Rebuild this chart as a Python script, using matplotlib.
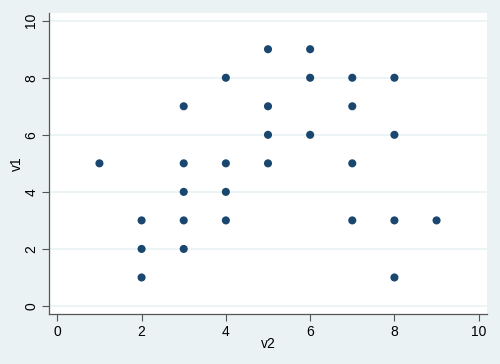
import matplotlib.pyplot as plt

# data
v2 = [1, 2, 2, 2, 3, 3, 3, 3, 3, 4, 4, 4, 4, 5, 5, 5, 5,
      6, 6, 6, 7, 7, 7, 7, 8, 8, 8, 8, 9]
v1 = [5, 3, 2, 1, 7, 5, 4, 3, 2, 8, 5, 4, 3, 9, 7, 6, 5,
      9, 8, 6, 8, 7, 5, 3, 8, 6, 3, 1, 3]
ticks = [0, 2, 4, 6, 8, 10]

bg = '#eaf2f3'
plt.rcParams['font.family'] = ['Liberation Sans', 'DejaVu Sans']

fig = plt.figure(figsize=(5, 3.64), dpi=100, facecolor=bg)
ax = fig.add_axes([0.0986, 0.1382, 0.8748, 0.8269])
ax.set_facecolor('white')

ax.scatter(v2, v1, s=34, color='#1a476f', edgecolors='none', zorder=3)

ax.set_xlim(-0.19, 10.19)
ax.set_ylim(-0.27, 10.28)
ax.set_xticks(ticks)
ax.set_yticks(ticks)
ax.grid(axis='y', color=bg, linewidth=1.2)
for lbl in ax.get_yticklabels():
    lbl.set_rotation(90)
    lbl.set_va('center')
ax.tick_params(labelsize=10, length=5, width=0.8, color='#555555', pad=3)

for s in ['top', 'right']:
    ax.spines[s].set_visible(False)
for s in ['left', 'bottom']:
    ax.spines[s].set_color('#555555')
    ax.spines[s].set_linewidth(0.9)

ax.set_xlabel('v2', fontsize=10, labelpad=-1)
ax.set_ylabel('v1', fontsize=10, labelpad=0)

plt.savefig('out.png', dpi=100, facecolor=bg)
